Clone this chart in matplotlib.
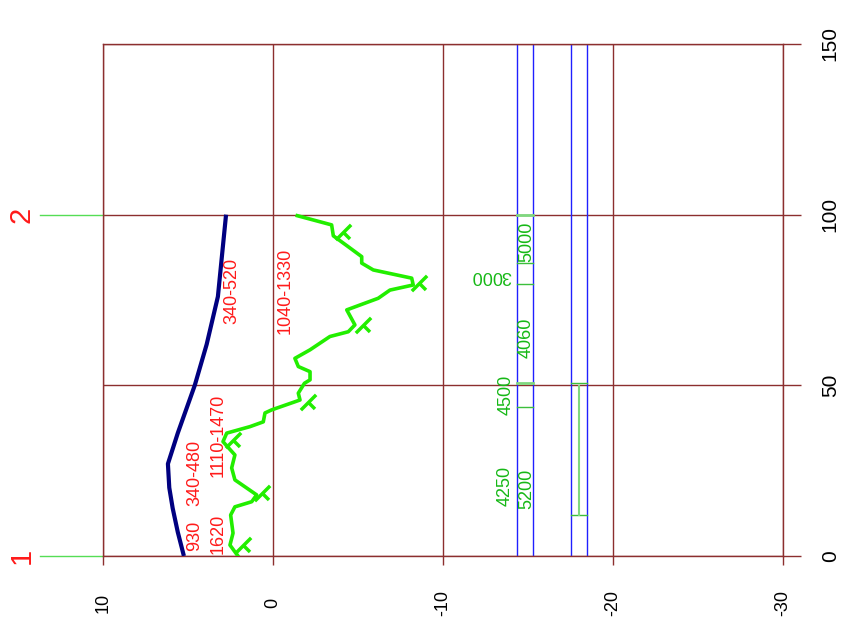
import numpy as np
import matplotlib
matplotlib.use("Agg")
import matplotlib.pyplot as plt
from matplotlib.path import Path

plt.rcParams["font.family"] = ["Liberation Sans", "DejaVu Sans"]
plt.rcParams["axes.unicode_minus"] = False

GRID = "#8c2f2f"
RED = "#ff1a1a"
LABEL_GREEN = "#16b816"

# section profile (offset vs. distance along the line)
crust_d = [0, 7, 14, 20, 27, 36, 50, 62, 76, 88, 100]
crust_v = [5.24, 5.6, 5.9, 6.1, 6.18, 5.6, 4.6, 3.9, 3.24, 3.0, 2.76]

trace_d = [0, 3.2, 6.7, 12.0, 14.4, 15.9, 17.9, 22.3, 25.8, 29.6, 33.5, 36.0,
           37.9, 39.3, 41.9, 42.8, 45.7, 47.7, 50.6, 51.6, 54.0, 55.5, 57.9,
           60.4, 64.3, 65.7, 67.7, 72.1, 75.5, 77.9, 79.4, 81.4, 83.8, 85.8,
           87.7, 90.6, 93.8, 97.0, 99.7]
trace_v = [2.06, 2.53, 2.35, 2.49, 2.24, 1.25, 0.96, 2.24, 2.43, 2.24, 2.94, 2.72,
           1.35, 0.57, 0.47, 0.08, -1.59, -1.49, -1.85, -2.18, -2.18, -1.49, -1.29,
           -2.18, -3.35, -4.43, -4.82, -4.34, -6.19, -6.88, -8.25, -8.16, -5.90, -5.22,
           -5.22, -4.43, -3.55, -3.45, -1.43]

# strike/dip symbols
dip_d = [3.2, 18.4, 34.0, 45.2, 67.7, 80.0, 94.9]
dip_v = [1.75, 0.66, 2.33, -2.08, -5.31, -8.59, -4.12]

# stations
station_d = [0, 100]
station_names = ["1", "2"]

# annotations along the section
red_labels = ["930", "1620", "340-480", "1110-1470", "340-520", "1040-1330"]
red_v = [4.59, 3.24, 4.59, 3.24, 2.41, -0.74]
red_d = [6.0, 6.4, 24.3, 35.2, 77.6, 77.6]

green_labels = ["5000", "3000", "4060", "4500", "4250", "5200"]
green_v = [-14.91, -12.82, -14.91, -13.71, -13.65, -14.91]
green_d = [92.0, 82.2, 63.9, 47.3, 20.5, 19.6]
green_rot = [90, 180, 90, 90, 90, 90]

# log columns
col_edges = [-14.33, -15.31, -17.51, -18.49]
col1_marks = [100, 85.8, 79.7, 50.8, 43.7]
col2_marks = [50.8, 12.0]

x_ticks = [10, 0, -10, -20, -30]
y_ticks = [0, 50, 100, 150]

fig = plt.figure(figsize=(8.42, 6.24), dpi=100)
ax = fig.add_axes([0.1223, 0.109, 0.8076, 0.8205])
ax.set_xlim(10, -30)
ax.set_ylim(0, 150)

for s in ax.spines.values():
    s.set_color(GRID)
    s.set_linewidth(1)
ax.set_xticks(x_ticks)
ax.set_yticks(y_ticks)
ax.grid(True, color=GRID, lw=1)
ax.set_axisbelow(True)
ax.yaxis.tick_right()
ax.tick_params(axis="x", length=6.5, width=1, color=GRID, pad=27,
               labelsize=13, labelrotation=90)
ax.tick_params(axis="y", length=13, width=1, color=GRID, pad=21,
               labelsize=15, labelrotation=90)
for lab in ax.get_xticklabels():
    lab.set_va("center")
for lab in ax.get_yticklabels():
    lab.set_ha("center")
    lab.set_va("center")

# columns
for v in col_edges:
    ax.plot([v, v], [0, 150], color="#2020ff", lw=1)
for d in col1_marks:
    heavy = d in (100, 50.8)
    ax.plot([col_edges[0], col_edges[1]], [d, d],
            color="#7fd87f" if heavy else "#3cbf3c", lw=2 if heavy else 1)
for d in col2_marks:
    ax.plot([col_edges[2], col_edges[3]], [d, d], color="#3cbf3c", lw=1)
mid2 = (col_edges[2] + col_edges[3]) / 2
ax.plot([mid2, mid2], [col2_marks[1], col2_marks[0] - 1], color="#7fd87f", lw=1.5)

# profile lines
ax.plot(crust_v, crust_d, color="#000080", lw=3, solid_capstyle="butt", zorder=4)
ax.plot(trace_v, trace_d, color="#22ee00", lw=2.6, zorder=4)

sym = Path([(-1, -1), (1, 1), (0, 0), (0.85, -0.85)],
           [Path.MOVETO, Path.LINETO, Path.MOVETO, Path.LINETO])
ax.plot(dip_v, dip_d, ls="none", marker=sym, markersize=11,
        markeredgewidth=2.5, markeredgecolor="#22ee00", zorder=5)

# stations at the left edge
for d, name in zip(station_d, station_names):
    ax.plot([13.7, 10], [d, d], color="#55dd55", lw=1, clip_on=False)
    ax.text(14.8, d, name, color=RED, fontsize=21, rotation=90,
            ha="center", va="center", clip_on=False)

for t, v, d in zip(red_labels, red_v, red_d):
    ax.text(v, d, t, color=RED, fontsize=13, rotation=90,
            ha="center", va="center", zorder=6)
for t, v, d, r in zip(green_labels, green_v, green_d, green_rot):
    ax.text(v, d, t, color=LABEL_GREEN, fontsize=13, rotation=r,
            ha="center", va="center", zorder=6)

fig.savefig("out.png", dpi=100)
